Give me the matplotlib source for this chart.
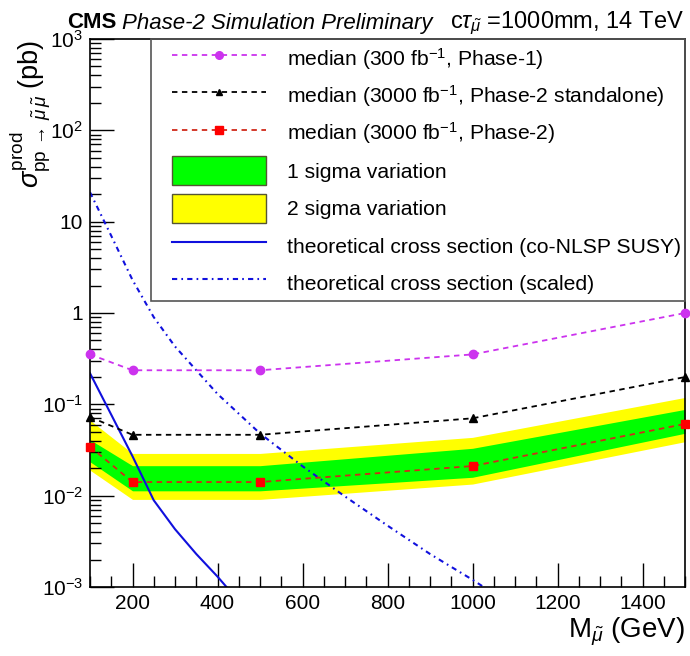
import math
import matplotlib
matplotlib.use('Agg')
import matplotlib.pyplot as plt
from matplotlib.lines import Line2D
from matplotlib.patches import Patch, Rectangle
from matplotlib.ticker import FixedLocator, MultipleLocator, FuncFormatter, LogLocator, NullFormatter

plt.rcParams['font.family'] = ['Liberation Sans', 'DejaVu Sans']
plt.rcParams['mathtext.fontset'] = 'custom'
plt.rcParams['mathtext.rm'] = 'Liberation Sans'
plt.rcParams['mathtext.it'] = 'Liberation Sans:italic'
plt.rcParams['mathtext.bf'] = 'Liberation Sans:bold'

# mass points (GeV)
mass = [100, 200, 500, 1000, 1500]
# expected limits (pb)
median_p1 = [0.352, 0.236, 0.236, 0.352, 1.0]
median_p2_sa = [0.0727, 0.0464, 0.0464, 0.0703, 0.199]
median_p2 = [0.0344, 0.0141, 0.0141, 0.0211, 0.061]
sig1_hi = [0.041, 0.0213, 0.0213, 0.033, 0.088]
sig1_lo = [0.0235, 0.0113, 0.0113, 0.0159, 0.0482]
sig2_hi = [0.067, 0.029, 0.029, 0.0435, 0.119]
sig2_lo = [0.019, 0.0091, 0.0091, 0.0134, 0.039]

# theory cross sections
theo_mass = [100, 150, 200, 250, 300, 350, 400, 450, 500]
theo_xs = [0.219, 0.077, 0.027, 0.0089, 0.0043, 0.0023, 0.0013, 0.0007, 0.0004]
scaled_mass = [100, 150, 200, 250, 300, 400, 500, 600, 700, 800, 900, 1000, 1100]
scaled_xs = [21, 7.0, 2.3, 0.9, 0.43, 0.13, 0.048, 0.021, 0.0098, 0.0047, 0.0023, 0.0012, 0.0006]

magenta = '#cc33ee'
blue = '#1010dd'
dashdot = (2.5, 2.0, 0.8, 2.0)

fig = plt.figure(figsize=(6.9, 6.56), dpi=100)
ax = fig.add_axes([90/690, 1-587/656, 595/690, 548/656])

ax.fill_between(mass, sig2_lo, sig2_hi, color='#ffff00', lw=0)
ax.fill_between(mass, sig1_lo, sig1_hi, color='#00ff00', lw=0)

ax.plot(theo_mass, theo_xs, color=blue, lw=1.5)
ax.plot(scaled_mass, scaled_xs, color=blue, lw=1.5, dashes=dashdot)

ax.plot(mass, median_p1, color=magenta, lw=1.3, dashes=(3, 2.5), marker='o', ms=6,
        mec=magenta, clip_on=False, zorder=4)
ax.plot(mass, median_p2_sa, color='black', lw=1.3, dashes=(3, 2.5), marker='^', ms=5.5,
        clip_on=False, zorder=4)
ax.plot(mass, median_p2, color='#d02a1a', lw=1.3, dashes=(3, 2.5), marker='s', ms=5.5,
        mfc='#ff0000', mec='#ff0000', clip_on=False, zorder=4)

ax.set_yscale('log')
ax.set_xlim(100, 1500)
ax.set_ylim(1e-3, 1e3)

ax.xaxis.set_major_locator(MultipleLocator(200))
ax.xaxis.set_minor_locator(MultipleLocator(50))
ax.yaxis.set_major_locator(FixedLocator([1e-3, 1e-2, 1e-1, 1, 10, 1e2, 1e3]))
ax.yaxis.set_minor_locator(LogLocator(base=10, subs=range(2, 10), numticks=20))
ax.yaxis.set_minor_formatter(NullFormatter())


def ylab(v, pos):
    e = int(round(math.log10(v)))
    if e == 0:
        return '1'
    if e == 1:
        return '10'
    return r'$10^{%d}$' % e


ax.yaxis.set_major_formatter(FuncFormatter(ylab))
ax.tick_params(which='both', direction='in', top=False, right=False, width=1, labelsize=15)
ax.tick_params(which='major', length=17, pad=5)
ax.tick_params(which='minor', length=8)
for s in ax.spines.values():
    s.set_linewidth(1.2)

fig.text(685/690, 1-632/656, r'M$_{\tilde{\mu}}$ (GeV)', ha='right', va='center', fontsize=20)
fig.text(30/690, 1-40/656, r'$\sigma^{\mathrm{prod}}_{\mathrm{pp}\,\rightarrow\,\tilde{\mu}\,\tilde{\mu}}$ (pb)',
         rotation=90, ha='center', va='top', fontsize=19.5)

# header
t1 = fig.text(67/690, 1-23/656, 'CMS', fontweight='bold', fontsize=16, va='center')
fig.canvas.draw()
bb = t1.get_window_extent()
fig.text((bb.x1 + 6)/690, 1-23/656, 'Phase-2 Simulation Preliminary', style='italic',
         fontsize=16, va='center')
fig.text(684/690, 1-23/656, r'c$\tau_{\tilde{\mu}}$ =1000mm, 14 TeV', ha='right',
         fontsize=17, va='center')

# legend
ax.add_patch(Rectangle((61/595, 1-262/548), 534/595, 262/548, transform=ax.transAxes,
                       fill=False, ec='#555555', lw=1.2, zorder=5, clip_on=False))
handles = [
    Line2D([], [], color=magenta, lw=1.3, dashes=(3, 2.5), marker='o', ms=5.5, mec=magenta),
    Line2D([], [], color='black', lw=1.3, dashes=(3, 2.5), marker='^', ms=4.5),
    Line2D([], [], color='#d02a1a', lw=1.3, dashes=(3, 2.5), marker='s', ms=5.5, mfc='#ff0000', mec='#ff0000'),
    Patch(fc='#00ff00', ec='#555533', lw=1),
    Patch(fc='#ffff00', ec='#555533', lw=1),
    Line2D([], [], color=blue, lw=1.5),
    Line2D([], [], color=blue, lw=1.5, dashes=dashdot),
]
labels = [
    r'median (300 fb$^{-1}$, Phase-1)',
    r'median (3000 fb$^{-1}$, Phase-2 standalone)',
    r'median (3000 fb$^{-1}$, Phase-2)',
    '1 sigma variation',
    '2 sigma variation',
    'theoretical cross section (co-NLSP SUSY)',
    'theoretical cross section (scaled)',
]
fig.legend(handles, labels, loc='upper left', bbox_to_anchor=(171.7/690, 1-44/656),
           frameon=False, fontsize=15.2, handlelength=94/21.1, handleheight=1.75,
           labelspacing=0.39, handletextpad=21/21.1, borderpad=0, borderaxespad=0,
           numpoints=1)

fig.savefig('out.png', dpi=100)
